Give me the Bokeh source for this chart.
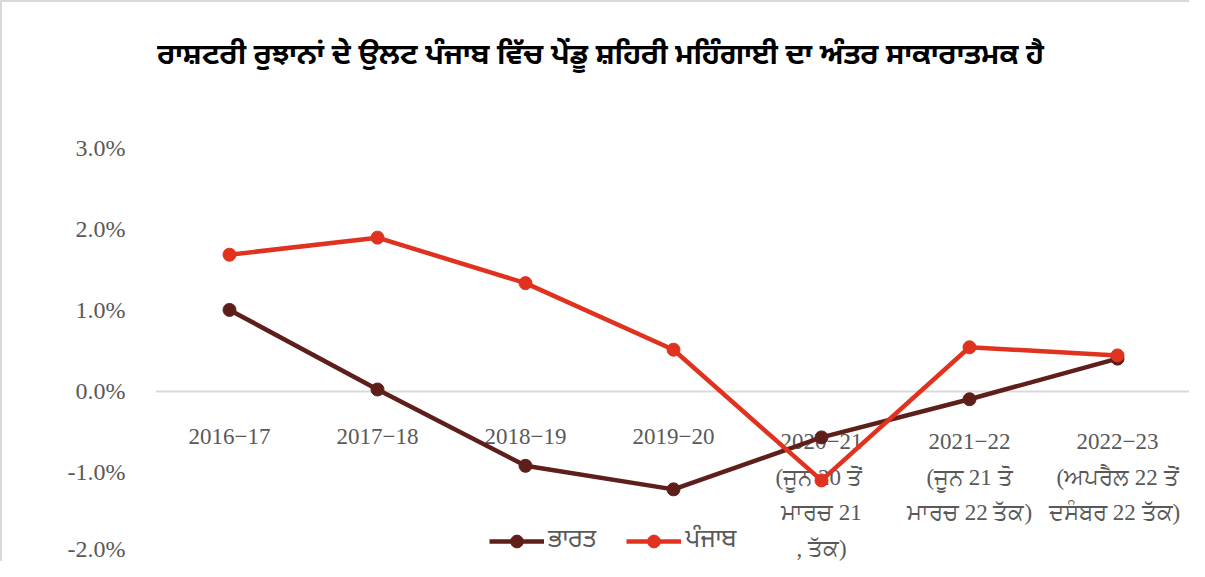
from bokeh.plotting import figure
from bokeh.models import Range1d, FactorRange, PrintfTickFormatter, FixedTicker, Legend, LegendItem, Label
from bokeh.embed import file_html
from bokeh.resources import INLINE

# ---- data ----
categories = ["2016-17", "2017-18", "2018-19", "2019-20", "2020-21", "2021-22", "2022-23"]
tick_labels = [
    "2016−17",
    "2017−18",
    "2018−19",
    "2019−20",
    "2020−21\n(ਜੂਨ 20  ਤੋਂ\nਮਾਰਚ 21\n, ਤੱਕ)",
    "2021−22\n(ਜੂਨ 21 ਤੋ\nਮਾਰਚ 22 ਤੱਕ)",
    "2022−23\n(ਅਪਰੈਲ 22 ਤੋਂ\nਦਸੰਬਰ 22  ਤੱਕ)",
]
bharat = [1.00, 0.02, -0.92, -1.21, -0.57, -0.10, 0.40]
punjab = [1.68, 1.89, 1.33, 0.51, -1.10, 0.54, 0.44]
y_ticks = [-2, -1, 0, 1, 2, 3]
series_names = ["ਭਾਰਤ", "ਪੰਜਾਬ"]
title_text = "ਰਾਸ਼ਟਰੀ ਰੁਝਾਨਾਂ ਦੇ ਉਲਟ ਪੰਜਾਬ ਵਿੱਚ ਪੇਂਡੂ ਸ਼ਹਿਰੀ ਮਹਿੰਗਾਈ ਦਾ ਅੰਤਰ ਸਾਕਾਰਾਤਮਕ ਹੈ"

DARK = "#5E1F1B"
RED = "#E0321F"
GREY = "#595959"
SERIF = "'Liberation Serif', 'Times New Roman', serif"
GUR_FONT = "'Liberation Serif', 'Noto Sans Gurmukhi', serif"
GUR_SANS = "'Noto Sans Gurmukhi', 'Noto Sans', sans-serif"

# frame spans the whole canvas height; the area above 3.0% holds the title
p = figure(
    width=1189, height=561,
    x_range=FactorRange(*categories),
    y_range=Range1d(-2.123, 4.786),
    output_backend="svg", toolbar_location=None,
    min_border_left=153, min_border_right=0, min_border_top=0, min_border_bottom=0,
)
p.styles = {"border-top": "2px solid #d9d9d9", "border-left": "2px solid #d9d9d9"}
p.outline_line_color = None
p.xgrid.visible = False
p.ygrid.visible = False

# y axis
p.yaxis.ticker = FixedTicker(ticks=y_ticks)
p.yaxis.formatter = PrintfTickFormatter(format="%.1f%%")
p.yaxis.axis_line_color = None
p.yaxis.major_tick_line_color = None
p.yaxis.minor_tick_line_color = None
p.yaxis.major_label_text_font = SERIF
p.yaxis.major_label_text_font_size = "24px"
p.yaxis.major_label_text_color = GREY
p.yaxis.major_label_standoff = 24

# x axis line at zero, labels drawn as text under the series
xa = p.xaxis[0]
xa.fixed_location = 0
xa.level = "underlay"
xa.axis_line_color = "#d9d9d9"
xa.axis_line_width = 2
xa.major_tick_line_color = None
xa.minor_tick_line_color = None
xa.major_label_text_font_size = "0px"
xa.major_label_text_alpha = 0

p.text(x=categories, y=0, text=tick_labels, y_offset=38,
       text_align="center", text_baseline="top",
       text_font=GUR_FONT, text_font_size="23px", text_color=GREY,
       text_line_height=1.42)

# series
r1 = p.line(categories, bharat, line_color=DARK, line_width=4.5)
s1 = p.scatter(categories, bharat, size=13, fill_color=DARK, line_color=DARK)
r2 = p.line(categories, punjab, line_color=RED, line_width=4.5)
s2 = p.scatter(categories, punjab, size=13, fill_color=RED, line_color=RED)

legend = Legend(items=[
    LegendItem(label=series_names[0], renderers=[r1, s1]),
    LegendItem(label=series_names[1], renderers=[r2, s2]),
], orientation="horizontal", location=(334, 6))
legend.background_fill_alpha = 0
legend.border_line_color = None
legend.glyph_width = 55
legend.glyph_height = 32
legend.label_text_font = GUR_SANS
legend.label_text_font_size = "25px"
legend.label_text_color = GREY
legend.spacing = 30
legend.padding = 4
legend.margin = 0
legend.label_standoff = 4
p.add_layout(legend, "center")

# chart title
title = Label(x=0.012, y=4.12, text=title_text,
              text_align="left", text_baseline="middle",
              text_font=GUR_SANS, text_font_style="bold", text_font_size="29px",
              text_color="black")
p.add_layout(title)

open("out.html", "w").write(file_html(p, INLINE))
